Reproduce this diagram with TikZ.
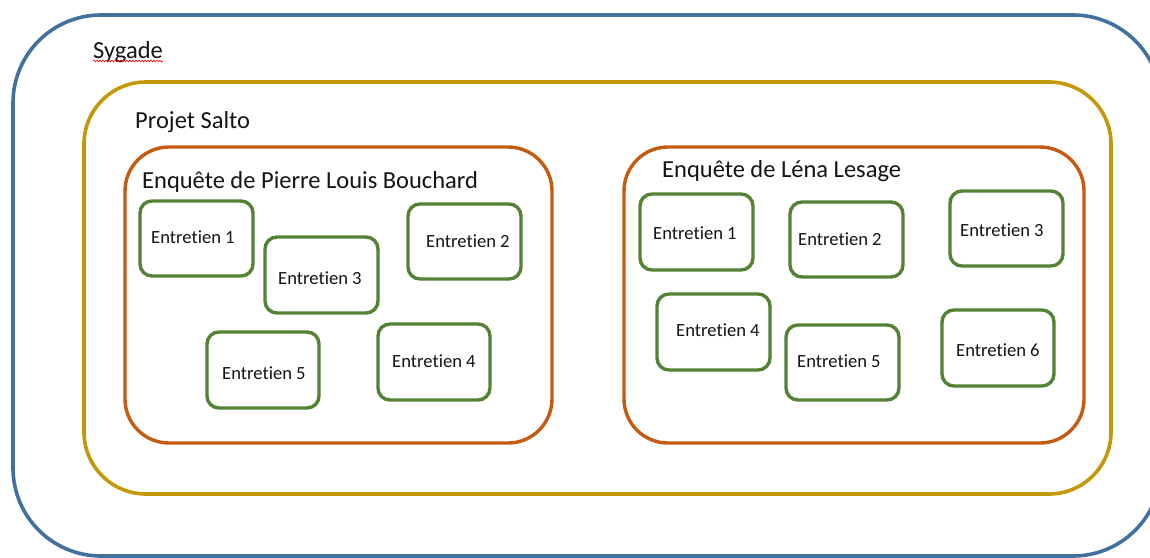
\documentclass[tikz,border=0pt]{standalone}
\usepackage{fontspec}
\setmainfont{Carlito}[RawFeature={-liga}]
\usetikzlibrary{decorations.pathmorphing}
\definecolor{sygblue}{RGB}{65,113,156}
\definecolor{saltogold}{RGB}{197,152,8}
\definecolor{enqorange}{RGB}{197,90,17}
\definecolor{entgreen}{RGB}{84,130,53}
\definecolor{inkgray}{RGB}{20,20,20}
\tikzset{
  zone/.style={draw, rectangle, inner sep=0pt, outer sep=0pt},
  sygadebox/.style={zone, sygblue, line width=3.6pt, rounded corners=88pt},
  projetbox/.style={zone, saltogold, line width=3.6pt, rounded corners=62pt},
  enquetebox/.style={zone, enqorange, line width=3.4pt, rounded corners=44pt},
  entbox/.style={zone, entgreen, line width=3.4pt, rounded corners=12pt},
  bigtitle/.style={anchor=base west, inner sep=0pt, text=inkgray, font=\fontsize{24.5}{28}\selectfont},
  enttext/.style={anchor=base west, inner sep=0pt, text=inkgray, font=\fontsize{18.6}{22}\selectfont},
}
% a box given by its left, top, right and bottom edges (y grows downwards)
\newcommand{\boxat}[6]{%
  \node[#1, minimum width={(#5-#3)*1pt}, minimum height={(#6-#4)*1pt}]
    (#2) at ({(#3+#5)/2}, {(#4+#6)/2}) {};}
\begin{document}
\begin{tikzpicture}[x=1pt, y=-1pt]
\useasboundingbox (0,0) rectangle (1150,557);
\clip (0,0) rectangle (1150,557);
\fill[white] (0,0) rectangle (1150,557);

% outer levels
\boxat{sygadebox}{sygade}{13}{15}{1161}{556}
\node[bigtitle] (sygadelbl) at (93,58) {Sygade};
\draw[red, line width=0.6pt, decorate, decoration={snake, amplitude=0.9pt, segment length=3pt}]
  (sygadelbl.base west) ++(0,3) coordinate (wavyA) -- ++(70,0) coordinate (wavyB);

\boxat{projetbox}{salto}{84}{82}{1111}{494}
\node[bigtitle] (saltolbl) at (135,128) {Projet Salto};

% first survey
\boxat{enquetebox}{plb}{125}{147}{552}{443}
\node[bigtitle] (plblbl) at (142,188) {Enquête de Pierre Louis Bouchard};

\boxat{entbox}{p1}{140}{201}{253}{276}
\node[enttext] (p1t) at (151,243) {Entretien 1};
\boxat{entbox}{p3}{265}{237}{378}{313}
\node[enttext] (p3t) at (278,284) {Entretien 3};
\boxat{entbox}{p2}{408}{204}{521}{279}
\node[enttext] (p2t) at (426,247) {Entretien 2};
\boxat{entbox}{p5}{207}{332}{319}{408}
\node[enttext] (p5t) at (222,379) {Entretien 5};
\boxat{entbox}{p4}{378}{324}{490}{400}
\node[enttext] (p4t) at (392,367) {Entretien 4};

% second survey
\boxat{enquetebox}{lls}{624}{147}{1084}{443}
\node[bigtitle] (llslbl) at (662,177) {Enquête de Léna Lesage};

\boxat{entbox}{l1}{640}{194}{753}{270}
\node[enttext] (l1t) at (653,239) {Entretien 1};
\boxat{entbox}{l2}{790}{202}{903}{277}
\node[enttext] (l2t) at (798,245) {Entretien 2};
\boxat{entbox}{l3}{950}{191}{1063}{266}
\node[enttext] (l3t) at (960,236) {Entretien 3};
\boxat{entbox}{l4}{657}{294}{770}{370}
\node[enttext] (l4t) at (676,336) {Entretien 4};
\boxat{entbox}{l5}{786}{325}{899}{400}
\node[enttext] (l5t) at (797,367) {Entretien 5};
\boxat{entbox}{l6}{942}{310}{1054}{386}
\node[enttext] (l6t) at (956,356) {Entretien 6};
\end{tikzpicture}
\end{document}
